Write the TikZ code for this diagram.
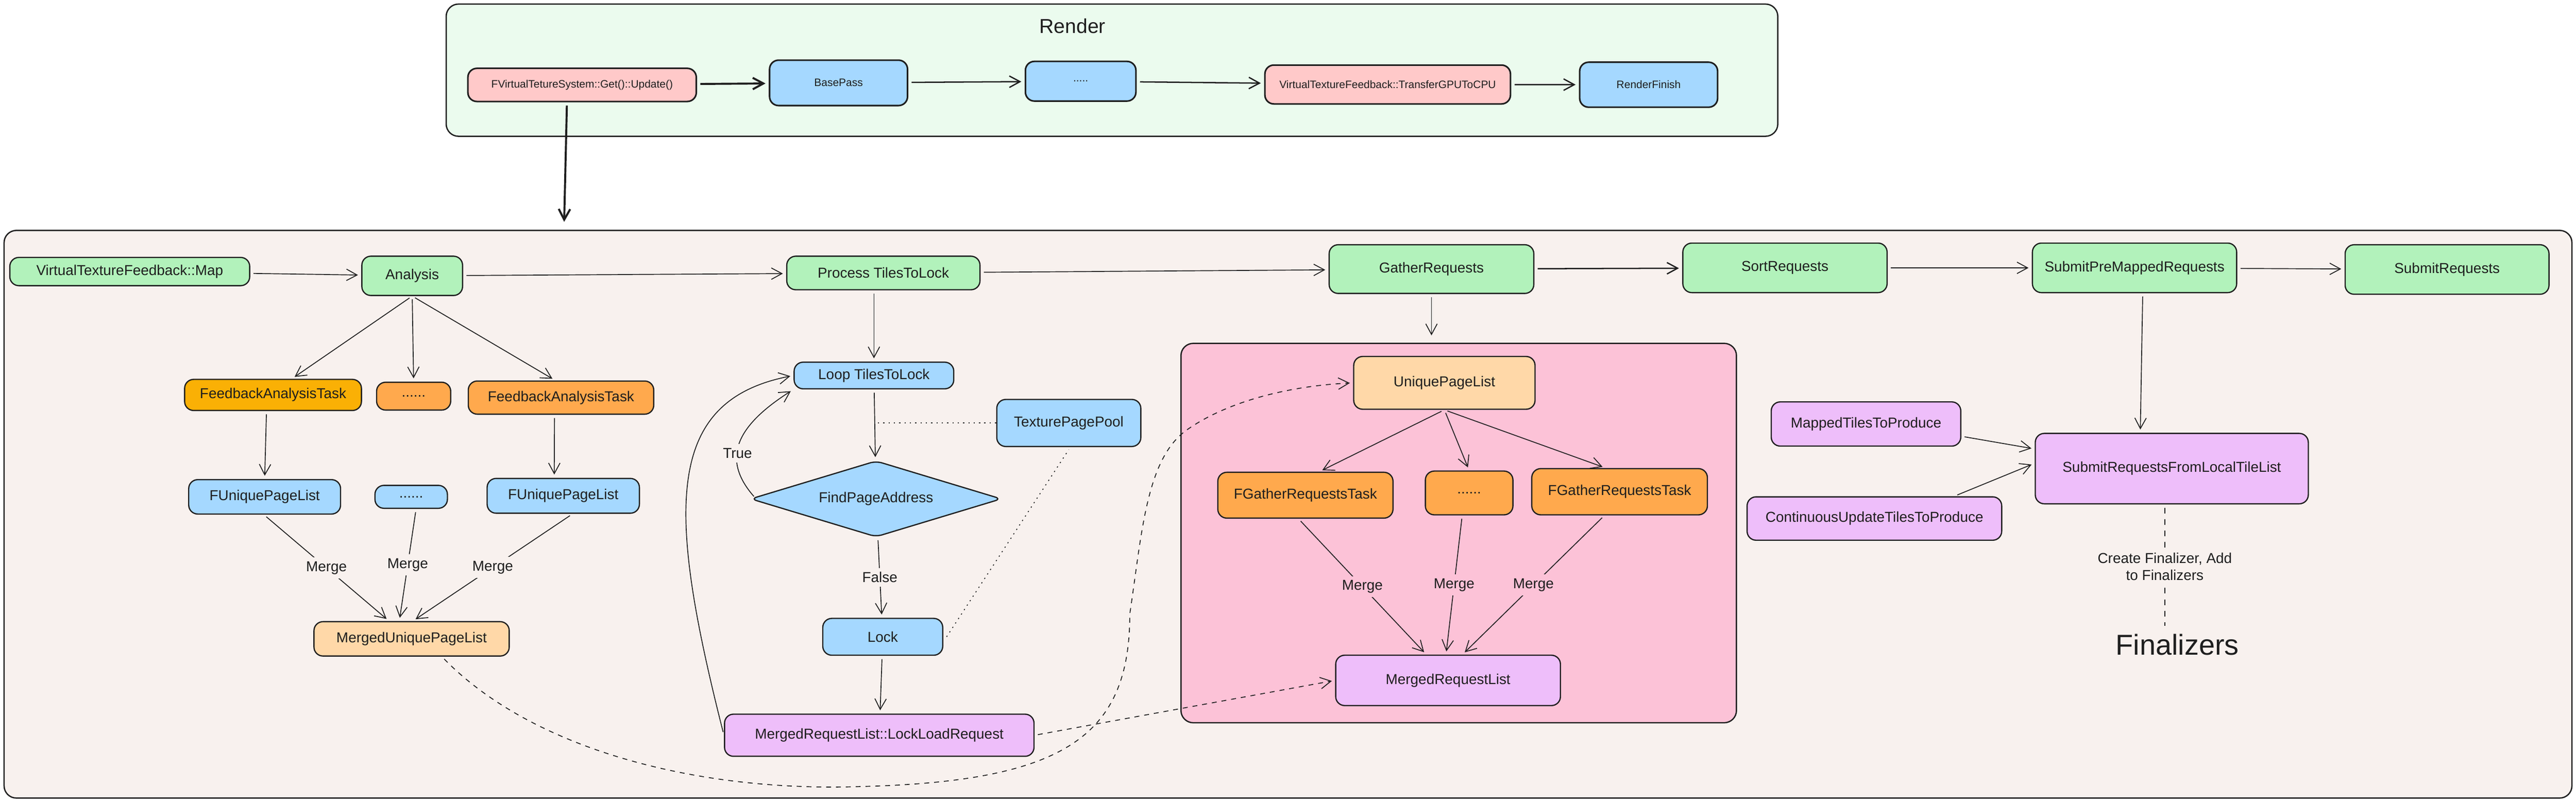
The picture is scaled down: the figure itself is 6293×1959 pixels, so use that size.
\documentclass[tikz,border=0pt]{standalone}
\usepackage{fontspec}
\setmainfont{Liberation Sans}
\usetikzlibrary{arrows.meta,shapes.geometric,calc}
\definecolor{renderbg}{HTML}{EBFBEE}
\definecolor{mainbg}{HTML}{F8F1EE}
\definecolor{pinkbg}{HTML}{FCC2D7}
\definecolor{cgreen}{HTML}{B2F2BB}
\definecolor{cblue}{HTML}{A5D8FF}
\definecolor{cred}{HTML}{FFC9C9}
\definecolor{corange}{HTML}{FFA94D}
\definecolor{cyellow}{HTML}{FAB005}
\definecolor{cpeach}{HTML}{FFD8A8}
\definecolor{cpurple}{HTML}{EEBEFA}
\definecolor{ink}{HTML}{1E1E1E}
% \bx{name}{x1}{y1}{x2}{y2}{style}{text}
\newcommand\bx[7]{\node[#6, minimum width={(#4-#2)*0.1mm}, minimum height={(#5-#3)*0.1mm}] (#1) at ({(#2+#4)/2},{(#3+#5)/2}) {#7};}
\tikzset{
  frame/.style={draw=ink, line width=0.9pt, rounded corners=3mm, inner sep=0pt},
  box/.style={draw=ink, line width=0.85pt, rounded corners=2.2mm, inner sep=0pt, text=ink, font=\fontsize{10}{12}\selectfont},
  rbox/.style={box, line width=1.1pt, font=\fontsize{7.5}{9}\selectfont},
  arr/.style={draw=ink, line width=0.6pt, shorten >=0.8mm, shorten <=0.8mm, -{Straight Barb[length=2.6mm,width=2.8mm]}},
  arrthick/.style={arr, line width=1.4pt},
  dasharr/.style={arr, dash pattern=on 1.2mm off 1.2mm},
  dashline/.style={draw=ink, line width=0.6pt, dash pattern=on 1.4mm off 1.4mm, shorten >=0.8mm, shorten <=0.8mm},
  dotline/.style={draw=ink, line width=0.6pt, dash pattern=on 0.3mm off 1mm},
  lbl/.style={fill=mainbg, inner sep=1mm, text=ink, font=\fontsize{10}{12}\selectfont},
  lblp/.style={lbl, fill=pinkbg},
}
\begin{document}
\begin{tikzpicture}[x=0.1mm, y=-0.1mm]
\useasboundingbox (0,0) rectangle (6293,1959);
% frames
\bx{render}{1090}{10}{4343}{333}{frame, fill=renderbg}{}
\bx{mainf}{10}{563}{6283}{1950}{frame, fill=mainbg}{}
\bx{gatherbox}{2885}{839}{4242}{1766}{frame, fill=pinkbg}{}
\node[text=ink, font=\fontsize{14}{16}\selectfont] (rtitle) at (2620,63) {Render};
% render row
\bx{fv}{1143}{167}{1701}{248}{rbox, fill=cred}{FVirtualTetureSystem::Get()::Update()}
\bx{bp}{1880}{147}{2217}{258}{rbox, fill=cblue}{BasePass}
\bx{rdots}{2505}{150}{2775}{247}{rbox, fill=cblue}{.....}
\bx{tr}{3090}{159}{3690}{254}{rbox, fill=cred}{VirtualTextureFeedback::TransferGPUToCPU}
\bx{rf}{3859}{152}{4196}{262}{rbox, fill=cblue}{RenderFinish}
% main row
\bx{map}{24}{629}{610}{698}{box, fill=cgreen}{VirtualTextureFeedback::Map}
\bx{analysis}{884}{626}{1130}{722}{box, fill=cgreen}{Analysis}
\bx{process}{1922}{626}{2394}{708}{box, fill=cgreen}{Process TilesToLock}
\bx{gather}{3247}{598}{3747}{717}{box, fill=cgreen}{GatherRequests}
\bx{sort}{4111}{594}{4610}{715}{box, fill=cgreen}{SortRequests}
\bx{subpre}{4965}{594}{5464}{715}{box, fill=cgreen}{SubmitPreMappedRequests}
\bx{subreq}{5729}{598}{6227}{719}{box, fill=cgreen}{SubmitRequests}
% analysis branch
\bx{fat1}{451}{927}{883}{1003}{box, fill=cyellow}{FeedbackAnalysisTask}
\bx{adots}{920}{934}{1101}{1002}{box, fill=corange}{......}
\bx{fat2}{1144}{931}{1597}{1012}{box, fill=corange}{FeedbackAnalysisTask}
\bx{fupl1}{461}{1172}{832}{1256}{box, fill=cblue}{FUniquePageList}
\bx{bdots}{916}{1186}{1093}{1242}{box, fill=cblue}{......}
\bx{fupl2}{1190}{1169}{1562}{1254}{box, fill=cblue}{FUniquePageList}
\bx{mupl}{767}{1519}{1244}{1603}{box, fill=cpeach}{MergedUniquePageList}
% lock branch
\bx{loop}{1940}{885}{2330}{950}{box, fill=cblue}{Loop TilesToLock}
\bx{tpp}{2435}{976}{2787}{1091}{box, fill=cblue}{TexturePagePool}
\node[box, diamond, aspect=3.3, rounded corners=1.5mm, fill=cblue, minimum width=61.3mm, minimum height=18.6mm] (find) at (2140,1219) {FindPageAddress};
\bx{lock}{2010}{1511}{2303}{1601}{box, fill=cblue}{Lock}
\bx{mrll}{1770}{1745}{2526}{1848}{box, fill=cpurple}{MergedRequestList::LockLoadRequest}
% gather branch
\bx{upl}{3307}{871}{3750}{1000}{box, fill=cpeach}{UniquePageList}
\bx{fgrt1}{2975}{1154}{3403}{1266}{box, fill=corange}{FGatherRequestsTask}
\bx{gdots}{3482}{1151}{3696}{1258}{box, fill=corange}{......}
\bx{fgrt2}{3742}{1145}{4171}{1258}{box, fill=corange}{FGatherRequestsTask}
\bx{mrlist}{3263}{1601}{3812}{1724}{box, fill=cpurple}{MergedRequestList}
% submit branch
\bx{srf}{4972}{1059}{5639}{1231}{box, fill=cpurple}{SubmitRequestsFromLocalTileList}
\bx{mapped}{4327}{982}{4790}{1090}{box, fill=cpurple}{MappedTilesToProduce}
\bx{cont}{4268}{1214}{4890}{1320}{box, fill=cpurple}{ContinuousUpdateTilesToProduce}
\node[text=ink, font=\fontsize{20}{24}\selectfont] (final) at (5319,1575) {Finalizers};
% ---------- connectors ----------
\coordinate (mainin) at (1378,550);
\draw[arrthick] (fv) -- (bp);
\draw[arr, line width=0.9pt] (bp) -- (rdots);
\draw[arr, line width=0.9pt] (rdots) -- (tr);
\draw[arr, line width=0.9pt] (tr) -- (rf);
\draw[arrthick] ([xshift=-3.7mm]fv.south) -- (mainin);
\draw[arr] (map) -- (analysis);
\draw[arr] (analysis) -- (process);
\draw[arr] (process) -- (gather);
\draw[arr, line width=0.9pt] (gather) -- (sort);
\draw[arr] (sort) -- (subpre);
\draw[arr] (subpre) -- (subreq);
\draw[arr] (analysis.south) -- ([xshift=4.6mm]fat1.north);
\draw[arr] (analysis.south) -- (adots.north);
\draw[arr] (analysis.south) -- ([xshift=-1.4mm]fat2.north);
\draw[arr] ([xshift=-1.6mm]fat1.south) -- (fupl1.north);
\draw[arr] ([xshift=-1.6mm]fat2.south) -- ([xshift=-2.2mm]fupl2.north);
\draw[arr] ([xshift=-0.2mm]fupl1.south) -- ([xshift=-5.5mm]mupl.north) node[midway, lbl] {Merge};
\draw[arr] ([xshift=1.2mm]bdots.south) -- ([xshift=-3mm]mupl.north) node[midway, lbl] {Merge};
\draw[arr] ([xshift=2.3mm]fupl2.south) -- ([xshift=0.3mm]mupl.north) node[midway, lbl] {Merge};
\draw[arr] (loop.north |- process.south) -- (loop.north);
\draw[arr] (loop) -- (find);
\draw[arr] (find) -- (lock) node[midway, lbl] {False};
\draw[arr] (lock) -- (mrll);
\draw[arr] ([xshift=1.5mm]find.west) .. controls (1760,1120) and (1800,1040) .. (loop.south west) node[pos=0.4, lbl] {True};
\draw[arr] (mrll.west) .. controls (1630,1250) and (1620,980) .. (loop.west);
\draw[dotline] (tpp.west) -- (tpp.west -| loop.south);
\draw[dotline] ([xshift=0.8mm]lock.east) -- ([yshift=-0.6mm]tpp.south);
\draw[dasharr] ([xshift=7.4mm]mupl.south) .. controls (1300,1830) and (1700,1935) .. (2098,1922)
   .. controls (2600,1910) and (2760,1800) .. (2760,1500)
   .. controls (2790,1300) and (2800,1120) .. (2900,1050)
   .. controls (3000,980) and (3150,943) .. (upl.west);
\draw[dasharr] (mrll.east) -- (mrlist.west);
\draw[arr, shorten >=1.8mm] (gather.south) -- (gather.south |- gatherbox.north);
\draw[arr] (upl.south) -- ([xshift=3.4mm]fgrt1.north);
\draw[arr] (upl.south) -- (gdots.north);
\draw[arr] (upl.south) -- ([xshift=-3.4mm]fgrt2.north);
\draw[arr] ([xshift=-1.7mm]fgrt1.south) -- ([xshift=-5.3mm]mrlist.north) node[midway, lblp] {Merge};
\draw[arr] ([xshift=-1.7mm]gdots.south) -- ([xshift=-0.5mm]mrlist.north) node[midway, lblp] {Merge};
\draw[arr] ([xshift=-3.7mm]fgrt2.south) -- ([xshift=3.5mm]mrlist.north) node[midway, lblp] {Merge};
\draw[arr] ([xshift=2mm]subpre.south) -- ([xshift=-7.7mm]srf.north);
\draw[arr] ([yshift=-3mm]mapped.east) -- ([yshift=4.8mm]srf.west);
\draw[arr] ([xshift=19.5mm]cont.north) -- ([yshift=1.3mm]srf.west);
\draw[dashline] ([xshift=-1.7mm]srf.south) -- ([xshift=-1.7mm]srf.south |- final.north)
   node[midway, lbl, align=center] {Create Finalizer, Add\\to Finalizers};
\end{tikzpicture}
\end{document}
